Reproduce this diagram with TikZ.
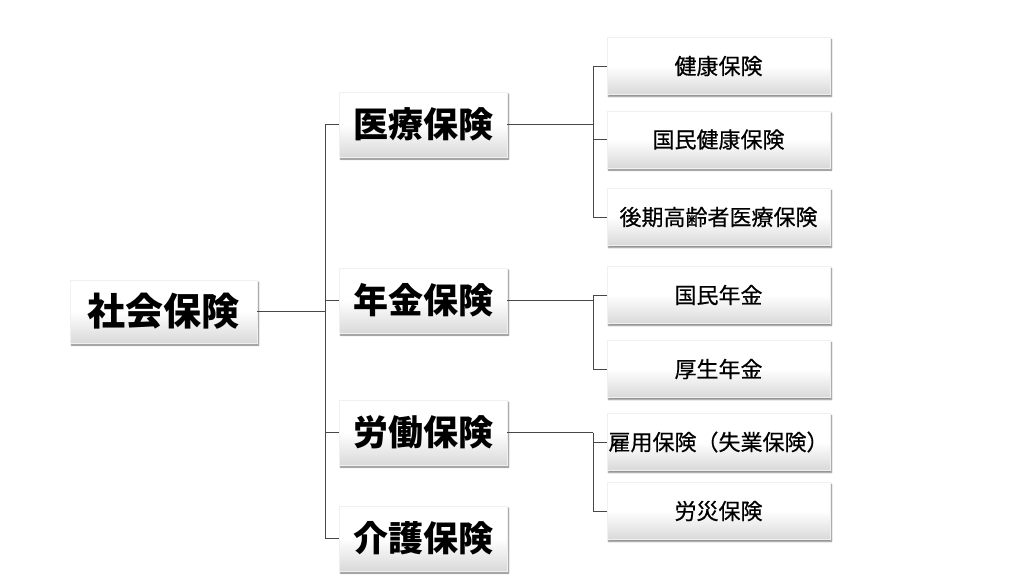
\documentclass[tikz,border=0pt]{standalone}
\usepackage{fontspec}
\setmainfont{Noto Sans CJK JP}
\newfontfamily\jpmed[FakeBold=0.5]{Noto Sans CJK JP}
\usetikzlibrary{shadows,shadows.blur}
\begin{document}
\begin{tikzpicture}[x=1pt,y=-1pt,
  box/.style={rectangle, inner sep=0pt, draw=black!6, line width=0.4pt,
    top color=white, bottom color=black!15, middle color=white,
    blur shadow={shadow xshift=1.5pt, shadow yshift=-2pt, shadow blur steps=4, shadow opacity=50, shadow blur radius=1.5pt}},
  lone/.style={box, minimum width=187pt, minimum height=63pt, font=\bfseries\fontsize{38}{40}\selectfont},
  ltwo/.style={box, minimum width=168pt, minimum height=65pt, font=\bfseries\fontsize{35}{37}\selectfont},
  lthree/.style={box, minimum width=223pt, minimum height=57pt, font=\jpmed\fontsize{22}{24}\selectfont},
  conn/.style={draw=black!72, line width=1pt}]
\useasboundingbox (0,0) rectangle (1024,576);
% level 1
\node[lone] (shakai) at (163.5,311.5) {社会保険};
% level 2
\node[ltwo] (iryo) at (423,124.5) {医療保険};
\node[ltwo] (nenkin) at (423,300.5) {年金保険};
\node[ltwo] (rodo) at (423,432.5) {労働保険};
\node[ltwo] (kaigo) at (423,538.5) {介護保険};
% level 3
\node[lthree] (kenko) at (718.5,66) {健康保険};
\node[lthree] (kokuho) at (718.5,139.5) {国民健康保険};
\node[lthree] (koki) at (718.5,217) {後期高齢者医療保険};
\node[lthree] (kokunen) at (718.5,295) {国民年金};
\node[lthree] (kosei) at (718.5,369) {厚生年金};
\node[lthree] (koyo) at (718.5,442) {雇用保険（失業保険）};
\node[lthree] (rosai) at (718.5,511) {労災保険};
% bus coordinates
\coordinate (trunk) at (325,311.5);
\coordinate (busA) at (593,124.5);
\coordinate (busB) at (593,300.5);
\coordinate (busC) at (593,432.5);
% connectors
\draw[conn] (shakai.east) -- (trunk);
\foreach \n in {iryo,nenkin,rodo,kaigo} \draw[conn] (trunk) |- (\n.west);
\draw[conn] (iryo.east) -- (busA);
\foreach \n in {kenko,kokuho,koki} \draw[conn] (busA) |- (\n.west);
\draw[conn] (nenkin.east) -- (busB);
\foreach \n in {kokunen,kosei} \draw[conn] (busB) |- (\n.west);
\draw[conn] (rodo.east) -- (busC);
\foreach \n in {koyo,rosai} \draw[conn] (busC) |- (\n.west);
\end{tikzpicture}
\end{document}
